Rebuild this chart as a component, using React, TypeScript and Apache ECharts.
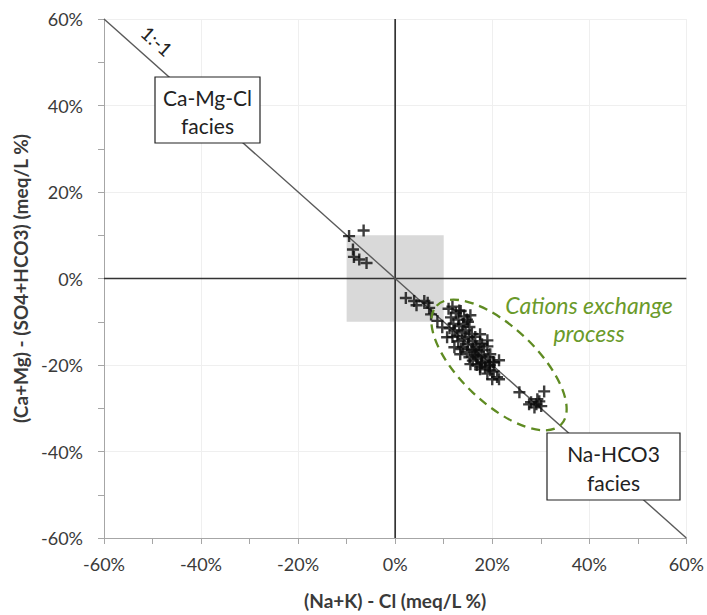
import React, { useEffect, useRef } from "react";
import * as echarts from "echarts";

// Axis settings (percent)
const axisMin = -60;
const axisMax = 60;
const axisStep = 20;

// Sample points: (Na+K) - Cl  vs  (Ca+Mg) - (SO4+HCO3), meq/L %
const sampleX = [
  -9.5, -6.5, -8.7, -8.5, -7.4, -5.9,
  2.2, 3.9, 4.4, 6.0, 6.7, 7.0, 7.4, 8.7,
  11.0, 11.8, 12.5, 11.5, 12.0, 13.0, 13.5, 14.2, 11.2, 12.3, 13.2, 14.0, 14.8, 12.8, 13.8, 14.5,
  15.3, 11.8, 13.0, 14.3, 15.2, 15.8, 14.0, 15.0, 16.0, 13.6, 14.8, 15.8, 16.7, 15.3, 16.4, 17.2,
  16.0, 17.0, 17.8, 18.3, 16.8, 17.8, 18.6, 19.2, 17.5, 18.5, 19.5, 20.2, 19.0, 20.3, 21.0, 15.0,
  16.5, 17.5, 16.3, 17.9, 19.0, 16.7, 17.9, 19.4, 20.4, 20.0, 21.4,
  13.2, 15.5, 17.5, 19.0, 19.6, 21.4, 9.7, 10.7, 12.2, 13.4, 15.5, 17.5, 19.6,
  25.6, 30.7, 28.0, 29.1, 29.7, 28.7, 30.1, 27.6, 29.3,
];
const sampleY = [
  9.8, 11.1, 6.7, 5.0, 4.4, 3.6,
  -4.5, -5.2, -6.2, -5.2, -5.6, -6.8, -8.3, -9.8,
  -7.0, -6.5, -8.0, -9.0, -10.5, -9.5, -7.5, -8.8, -11.5, -12.0, -11.0, -10.5, -9.5, -13.2, -12.5, -12.0,
  -11.2, -13.5, -14.5, -14.0, -13.5, -12.8, -15.8, -15.2, -14.5, -16.3, -17.0, -16.5, -15.8, -18.2, -17.6, -16.9,
  -19.0, -18.5, -17.8, -16.5, -20.0, -19.6, -19.0, -18.2, -21.0, -20.6, -20.0, -19.3, -22.0, -21.5, -22.8, -10.0,
  -13.5, -15.0, -16.4, -15.2, -15.7, -18.0, -19.4, -20.3, -19.4, -23.3, -23.3,
  -7.4, -8.5, -12.9, -14.3, -17.5, -18.9, -11.3, -13.6, -15.9, -17.5, -19.8, -20.5, -21.2,
  -26.3, -26.1, -28.6, -29.1, -28.4, -29.8, -29.5, -29.1, -27.9,
];

// Reference lines
const oneToMinusOne = [[-60, 60], [60, -60]];
const zeroVertical = [[0, -60], [0, 60]];
const zeroHorizontal = [[-60, 0], [60, 0]];
// Shaded central zone
const centralZone = [[-10, -10], [10, 10]];

const FONT = "Lato, 'Open Sans', sans-serif";
const plusSymbol = "path://M4.8,0H7.2V4.8H12V7.2H7.2V12H4.8V7.2H0V4.8H4.8Z";
const GREEN = "#5f8b22";

export default function App() {
  const ref = useRef<HTMLDivElement>(null);

  useEffect(() => {
    if (!ref.current) return;
    const chart = echarts.init(ref.current, undefined, { renderer: "svg" });
    const points = sampleX.map((x, i) => [x, sampleY[i]]);

    const axisCommon = {
      type: "value" as const,
      min: axisMin,
      max: axisMax,
      interval: axisStep,
      axisLine: { show: true, onZero: false, lineStyle: { color: "#a6a6a6", width: 1 } },
      axisTick: { show: true, length: 6, lineStyle: { color: "#a6a6a6" } },
      minorTick: { show: true, splitNumber: 2, length: 6, lineStyle: { color: "#a6a6a6" } },
      splitLine: { show: true, lineStyle: { color: "#efefef", width: 1 } },
      axisLabel: {
        formatter: "{value}%",
        fontFamily: FONT,
        fontSize: 18,
        color: "#3a3a3a",
      },
      nameLocation: "middle" as const,
      nameTextStyle: { fontFamily: FONT, fontSize: 19, fontWeight: "bold" as const, color: "#3a3a3a" },
    };

    chart.setOption({
      animation: false,
      backgroundColor: "#ffffff",
      grid: { left: 104, right: 20, top: 19, bottom: 76, containLabel: false },
      xAxis: {
        ...axisCommon,
        name: "(Na+K) - Cl (meq/L %)",
        nameGap: 53,
        axisLabel: { ...axisCommon.axisLabel, margin: 17 },
      },
      yAxis: {
        ...axisCommon,
        name: "(Ca+Mg) - (SO4+HCO3) (meq/L %)",
        nameGap: 70,
        axisLabel: { ...axisCommon.axisLabel, margin: 21 },
      },
      series: [
        {
          type: "scatter",
          data: [],
          z: 1,
          markArea: {
            silent: true,
            itemStyle: { color: "#d9d9d9", opacity: 1 },
            data: [[{ coord: centralZone[0] }, { coord: centralZone[1] }]],
          },
        },
        {
          type: "line",
          data: zeroVertical,
          symbol: "none",
          z: 2,
          lineStyle: { color: "#333333", width: 1.7 },
        },
        {
          type: "line",
          data: zeroHorizontal,
          symbol: "none",
          z: 2,
          lineStyle: { color: "#333333", width: 1.7 },
        },
        {
          type: "line",
          data: oneToMinusOne,
          symbol: "none",
          z: 3,
          lineStyle: { color: "#5a5a5a", width: 1.4 },
        },
        {
          type: "scatter",
          data: points,
          symbol: plusSymbol,
          symbolSize: 12,
          z: 4,
          itemStyle: { color: "#0d0d0d" },
        },
      ],
      graphic: [
        {
          type: "text",
          x: 157,
          y: 41,
          rotation: -0.728,
          z: 100,
          style: {
            text: "1:-1",
            fontFamily: FONT,
            fontSize: 19,
            fill: "#222",
            align: "center",
            verticalAlign: "middle",
          },
        },
        {
          type: "rect",
          z: 100,
          shape: { x: 155, y: 77, width: 105, height: 66 },
          style: { fill: "#ffffff", stroke: "#222", lineWidth: 1.2 },
        },
        {
          type: "text",
          z: 101,
          x: 207.5,
          y: 111,
          style: {
            text: "Ca-Mg-Cl\nfacies",
            fontFamily: FONT,
            fontSize: 21,
            lineHeight: 28,
            fill: "#222",
            align: "center",
            verticalAlign: "middle",
          },
        },
        {
          type: "rect",
          z: 100,
          shape: { x: 547, y: 433, width: 133, height: 67 },
          style: { fill: "#ffffff", stroke: "#222", lineWidth: 1.2 },
        },
        {
          type: "text",
          z: 101,
          x: 613.5,
          y: 468,
          style: {
            text: "Na-HCO3\nfacies",
            fontFamily: FONT,
            fontSize: 21,
            lineHeight: 29,
            fill: "#222",
            align: "center",
            verticalAlign: "middle",
          },
        },
        {
          type: "ellipse",
          z: 100,
          x: 499,
          y: 365,
          rotation: -0.76,
          shape: { cx: 0, cy: 0, rx: 86, ry: 38 },
          style: { fill: "none", stroke: GREEN, lineWidth: 2.3, lineDash: [9, 6] },
        },
        {
          type: "text",
          z: 101,
          x: 589,
          y: 319,
          style: {
            text: "Cations exchange\nprocess",
            fontFamily: FONT,
            fontStyle: "italic",
            fontSize: 23,
            lineHeight: 28,
            fill: "#6a9a2a",
            align: "center",
            verticalAlign: "middle",
          },
        },
      ],
    });

    return () => chart.dispose();
  }, []);

  return (
    <div
      ref={ref}
      style={{ position: "absolute", left: 0, top: 0, width: 707, height: 615 }}
    />
  );
}
